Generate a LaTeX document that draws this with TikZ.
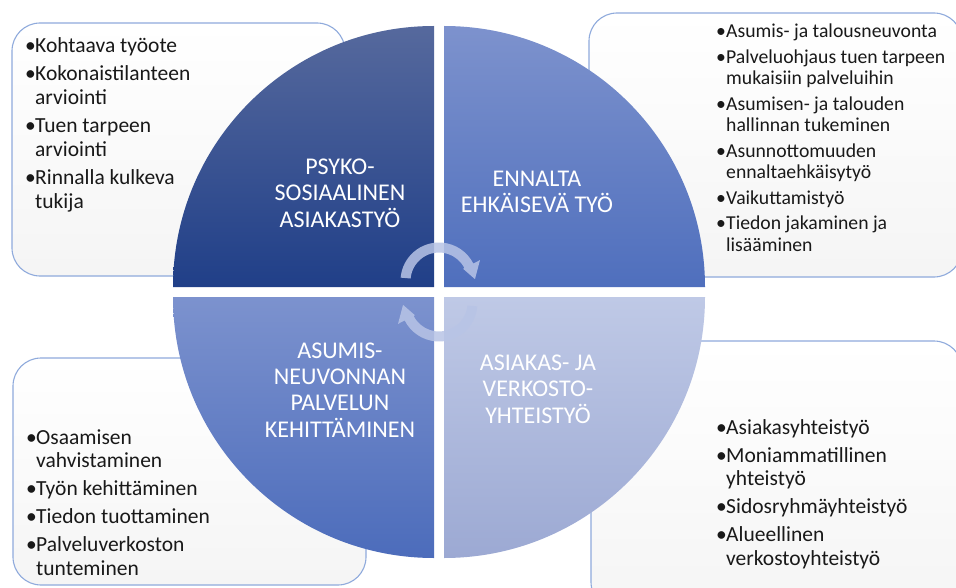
\documentclass[tikz,border=0pt]{standalone}
\usepackage{fontspec}
\setmainfont{Carlito}
\definecolor{boxline}{HTML}{8FAADC}
\definecolor{arrowc}{HTML}{B8C4E6}
\definecolor{tlA}{HTML}{56699D}
\definecolor{tlB}{HTML}{203F88}
\definecolor{trA}{HTML}{7D92CD}
\definecolor{trB}{HTML}{4F6FBD}
\definecolor{blA}{HTML}{7C92CE}
\definecolor{blB}{HTML}{4C6CBB}
\definecolor{brA}{HTML}{BFC9E6}
\definecolor{brB}{HTML}{9CA9D3}
\newcommand\qitem[1]{\par\noindent\hangindent=10pt\hangafter=1\makebox[10pt][l]{•}#1}
\begin{document}
\begin{tikzpicture}[x=1pt,y=-1pt,
  infobox/.style={draw=boxline, line width=1.1pt, top color=white, bottom color=black!4, rounded corners=28pt},
  qlabel/.style={text=white, align=center, font=\fontsize{24}{26.4}\selectfont, inner sep=0},
  blist/.style={anchor=base west, inner sep=0, text=black!90},
  cyc/.style={fill=arrowc, opacity=0.85}
]
\useasboundingbox (0,0) rectangle (956,588);
\clip (0,0) rectangle (956,588);
\fill[white] (0,0) rectangle (956,588);

% text boxes
\shade[infobox] (12,23) rectangle (345,276);
\shade[infobox] (589,13) rectangle (962,277);
\shade[infobox] (13,358) rectangle (366,585);
\shade[infobox] (591,341) rectangle (962,610);

% quadrants
\shade[top color=tlA, bottom color=tlB] (434,287) -- (173,287) arc[start angle=180,end angle=270,radius=261] -- cycle;
\shade[top color=trA, bottom color=trB] (444,287) -- (444,26) arc[start angle=270,end angle=360,radius=261] -- cycle;
\shade[top color=blA, bottom color=blB] (434,297) -- (434,558) arc[start angle=90,end angle=180,radius=261] -- cycle;
\shade[top color=brA, bottom color=brB] (444,297) -- (705,297) arc[start angle=0,end angle=90,radius=261] -- cycle;

% cycle arrows
\coordinate (ct) at (439,281);
\fill[cyc] ([shift={(ct)}]185:38.5) arc[start angle=185,end angle=333,radius=38.5]
  -- ([shift={(ct)}]333:46) -- ([shift={(ct)}]357:36) -- ([shift={(ct)}]333:27)
  -- ([shift={(ct)}]333:28.5) arc[start angle=333,end angle=185,radius=28.5] -- cycle;
\begin{scope}[rotate around={180:(439,292)}]
\fill[cyc] ([shift={(ct)}]185:38.5) arc[start angle=185,end angle=333,radius=38.5]
  -- ([shift={(ct)}]333:46) -- ([shift={(ct)}]357:36) -- ([shift={(ct)}]333:27)
  -- ([shift={(ct)}]333:28.5) arc[start angle=333,end angle=185,radius=28.5] -- cycle;
\end{scope}

% quadrant labels
\node[qlabel] (lTL) at (340,193) {PSYKO-\\SOSIAALINEN\\ASIAKASTYÖ};
\node[qlabel] (lTR) at (537,192) {ENNALTA\\EHKÄISEVÄ TYÖ};
\node[qlabel] (lBL) at (340,390) {ASUMIS-\\NEUVONNAN\\PALVELUN\\KEHITTÄMINEN};
\node[qlabel] (lBR) at (538,389) {ASIAKAS- JA\\VERKOSTO-\\YHTEISTYÖ};

% bullet lists
\node[blist, font=\fontsize{21.5}{23.7}\selectfont] (tTL) at (25,53) {\begin{minipage}[t]{320pt}\raggedright\setlength\parskip{4.3pt}%
\qitem{Kohtaava työote}
\qitem{Kokonaistilanteen\newline arviointi}
\qitem{Tuen tarpeen\newline arviointi}
\qitem{Rinnalla kulkeva\newline tukija}
\end{minipage}};
\node[blist, font=\fontsize{19.7}{21.6}\selectfont] (tTR) at (716,38) {\begin{minipage}[t]{320pt}\raggedright\setlength\parskip{3.8pt}%
\qitem{Asumis- ja talousneuvonta}
\qitem{Palveluohjaus tuen tarpeen\newline mukaisiin palveluihin}
\qitem{Asumisen- ja talouden\newline hallinnan tukeminen}
\qitem{Asunnottomuuden\newline ennaltaehkäisytyö}
\qitem{Vaikuttamistyö}
\qitem{Tiedon jakaminen ja\newline lisääminen}
\end{minipage}};
\node[blist, font=\fontsize{21.5}{23.7}\selectfont] (tBL) at (26,444) {\begin{minipage}[t]{320pt}\raggedright\setlength\parskip{4.3pt}%
\qitem{Osaamisen\newline vahvistaminen}
\qitem{Työn kehittäminen}
\qitem{Tiedon tuottaminen}
\qitem{Palveluverkoston\newline tunteminen}
\end{minipage}};
\node[blist, font=\fontsize{21.5}{23.7}\selectfont] (tBR) at (716,434) {\begin{minipage}[t]{320pt}\raggedright\setlength\parskip{4.3pt}%
\qitem{Asiakasyhteistyö}
\qitem{Moniammatillinen\newline yhteistyö}
\qitem{Sidosryhmäyhteistyö}
\qitem{Alueellinen\newline verkostoyhteistyö}
\end{minipage}};
\end{tikzpicture}
\end{document}
